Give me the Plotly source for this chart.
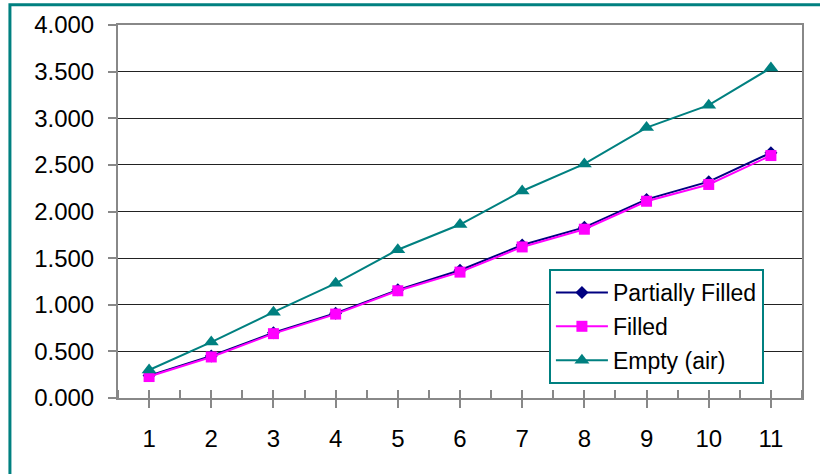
import plotly.graph_objects as go

categories = [1, 2, 3, 4, 5, 6, 7, 8, 9, 10, 11]
partially_filled = [0.24, 0.45, 0.70, 0.91, 1.16, 1.37, 1.64, 1.83, 2.13, 2.32, 2.63]
filled = [0.23, 0.44, 0.69, 0.90, 1.15, 1.35, 1.62, 1.81, 2.11, 2.29, 2.60]
empty_air = [0.30, 0.60, 0.92, 1.23, 1.59, 1.86, 2.22, 2.51, 2.90, 3.14, 3.54]
y_ticks = [0, 0.5, 1.0, 1.5, 2.0, 2.5, 3.0, 3.5, 4.0]

FONT = "Liberation Sans, Arial, sans-serif"

fig = go.Figure()
fig.add_trace(go.Scatter(x=categories, y=partially_filled, name="Partially Filled",
                         mode="lines+markers", legendgroup="a",
                         line=dict(color="#000080", width=2),
                         marker=dict(symbol="diamond", size=10, color="#000080")))
fig.add_trace(go.Scatter(x=categories, y=filled, name="Filled",
                         mode="lines+markers", legendgroup="b",
                         line=dict(color="#FF00FF", width=2),
                         marker=dict(symbol="square", size=11, color="#FF00FF")))
fig.add_trace(go.Scatter(x=categories, y=empty_air, name="Empty (air)",
                         mode="lines+markers", legendgroup="c",
                         line=dict(color="#008080", width=2),
                         marker=dict(symbol="triangle-up", size=13, color="#008080")))

fig.update_layout(
    width=820, height=474,
    margin=dict(l=118, r=18, t=25, b=76),
    paper_bgcolor="white", plot_bgcolor="white",
    font=dict(family=FONT, size=24, color="black"),
    showlegend=True,
    legend=dict(x=0.63, y=0.346, xanchor="left", yanchor="top",
                bgcolor="white", bordercolor="#008080", borderwidth=2,
                font=dict(size=23), tracegroupgap=1, itemwidth=52),
    xaxis=dict(range=[0.5, 11.5], tickvals=categories, ticktext=[str(c) for c in categories],
               showgrid=False, zeroline=False,
               showline=True, linecolor="#888888", linewidth=2, mirror=True,
               ticks="outside", ticklen=8, tickcolor="#888888", tickwidth=2,
               minor=dict(dtick=0.5, tick0=0.5, ticks="inside", ticklen=8,
                          tickcolor="#888888", tickwidth=2, showgrid=False),
               ticklabelstandoff=10, fixedrange=True),
    yaxis=dict(range=[0, 4.0], tickvals=y_ticks, tickformat=".3f",
               showgrid=True, gridcolor="#222222", gridwidth=1, zeroline=False,
               showline=True, linecolor="#888888", linewidth=2, mirror=True,
               ticks="outside", ticklen=8, tickcolor="#888888", tickwidth=2,
               ticklabelstandoff=9, fixedrange=True),
    shapes=[dict(type="rect", xref="paper", yref="paper",
                 x0=-0.158, x1=1.2, y0=-0.4, y1=1.054,
                 line=dict(color="#008080", width=3), fillcolor="rgba(0,0,0,0)",
                 layer="below")],
)

fig.write_html("out.html", config={"displayModeBar": False, "staticPlot": True},
               post_script="document.body.style.margin='0';document.body.style.padding='0';")
